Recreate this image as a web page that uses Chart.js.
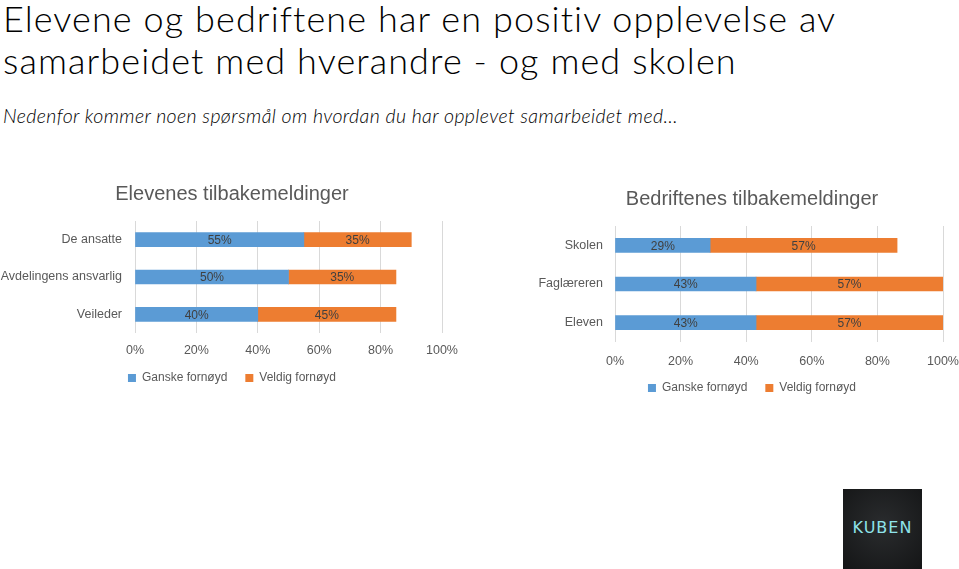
<!DOCTYPE html>
<html>
<head>
<meta charset="utf-8">
<script src="https://cdn.jsdelivr.net/npm/chart.js@4"></script>
<style>
  html, body { margin:0; padding:0; background:#fff; width:959px; height:569px; overflow:hidden; position:relative; }
  #title { position:absolute; left:3px; top:-3px; font-family:"Lato", sans-serif; font-weight:300; font-size:36px; letter-spacing:1.1px; line-height:42px; color:#000; white-space:nowrap; }
  #sub { position:absolute; left:3px; top:104px; font-family:"Lato", sans-serif; font-style:italic; font-weight:300; font-size:19.5px; letter-spacing:0.4px; color:#000; white-space:nowrap; }
  #c1wrap { position:absolute; left:0; top:170px; width:480px; height:224px; }
  #c2wrap { position:absolute; left:480px; top:175px; width:479px; height:229px; }
  #logo { position:absolute; left:843px; top:489px; width:79px; height:80px; background:radial-gradient(circle at 50% 45%, #2a2c2e, #141516); }
  #logo span { position:absolute; left:0; right:0; top:29px; text-align:center; font-family:"DejaVu Sans", sans-serif; font-size:16px; letter-spacing:1px; color:#8fe3ea; }
</style>
</head>
<body>
<div id="title">Elevene og bedriftene har en positiv opplevelse av<br>samarbeidet med hverandre - og med skolen</div>
<div id="sub">Nedenfor kommer noen spørsmål om hvordan du har opplevet samarbeidet med…</div>
<div id="c1wrap"><canvas id="c1" width="480" height="224"></canvas></div>
<div id="c2wrap"><canvas id="c2" width="479" height="229"></canvas></div>
<div id="logo"><span>KUBEN</span></div>
<script>
const seriesNames = ['Ganske fornøyd', 'Veldig fornøyd'];
const categoriesElever = ['De ansatte', 'Avdelingens ansvarlig', 'Veileder'];
const ganskeElever = [55, 50, 40];
const veldigElever = [35, 35, 45];
const categoriesBedrift = ['Skolen', 'Faglæreren', 'Eleven'];
const ganskeBedrift = [29, 43, 43];
const veldigBedrift = [57, 57, 57];
const xTicks = [0, 20, 40, 60, 80, 100];

const FONT = '"Liberation Sans", sans-serif';
const GRAY = '#595959';
const BLUE = '#5B9BD5';
const ORANGE = '#ED7D31';

const labelPlugin = {
  id: 'segLabels',
  afterDatasetsDraw(chart) {
    const ctx = chart.ctx;
    ctx.save();
    ctx.font = '12px ' + FONT;
    ctx.fillStyle = '#404040';
    ctx.textAlign = 'center';
    ctx.textBaseline = 'middle';
    chart.data.datasets.forEach((ds, di) => {
      const meta = chart.getDatasetMeta(di);
      meta.data.forEach((bar, i) => {
        const p = bar.getProps(['x', 'base', 'y'], true);
        ctx.fillText(ds.data[i] + '%', (p.x + p.base) / 2, p.y + 1);
      });
    });
    ctx.restore();
  }
};

function makeChart(id, title, cats, a, b, pad, yWidth, tickPad, yPad, xShrink) {
  return new Chart(document.getElementById(id), {
    type: 'bar',
    data: {
      labels: cats,
      datasets: [
        { label: seriesNames[0], data: a, backgroundColor: BLUE, barThickness: 14 },
        { label: seriesNames[1], data: b, backgroundColor: ORANGE, barThickness: 14 }
      ]
    },
    options: {
      indexAxis: 'y',
      responsive: false,
      animation: false,
      layout: { padding: pad },
      plugins: {
        title: { display: true, text: title, color: GRAY, font: { family: FONT, size: 20, weight: 'normal' }, padding: { top: 12, bottom: 15 } },
        legend: { position: 'bottom', labels: { color: GRAY, font: { family: FONT, size: 12 }, boxWidth: 8, boxHeight: 8, padding: 18 } },
        tooltip: { enabled: false }
      },
      scales: {
        x: {
          stacked: true, min: 0, max: 100,
          afterBuildTicks: s => { s.ticks = xTicks.map(v => ({ value: v })); },
          afterFit: s => { s.paddingLeft = 0; s.paddingRight = 0; s.height -= xShrink; s._computeLabelArea = () => undefined; },
          ticks: { color: GRAY, font: { family: FONT, size: 12.5 }, padding: tickPad, callback: v => v + '%', maxRotation: 0 },
          grid: { color: '#D9D9D9', drawTicks: false },
          border: { display: false }
        },
        y: {
          stacked: true,
          afterFit: s => { s.width = yWidth; s._computeLabelArea = () => undefined; },
          ticks: { color: GRAY, font: { family: FONT, size: 12.5 }, padding: yPad },
          grid: { display: false, drawTicks: false },
          border: { display: false }
        }
      }
    },
    plugins: [labelPlugin]
  });
}

makeChart('c1', 'Elevenes tilbakemeldinger', categoriesElever, ganskeElever, veldigElever,
  { left: 22, right: 38, top: 0, bottom: 0 }, 113, 10, 13, 14);
makeChart('c2', 'Bedriftenes tilbakemeldinger', categoriesBedrift, ganskeBedrift, veldigBedrift,
  { left: 81, right: 16, top: 0, bottom: 0 }, 54, 12, 12, 17);
</script>
</body>
</html>
